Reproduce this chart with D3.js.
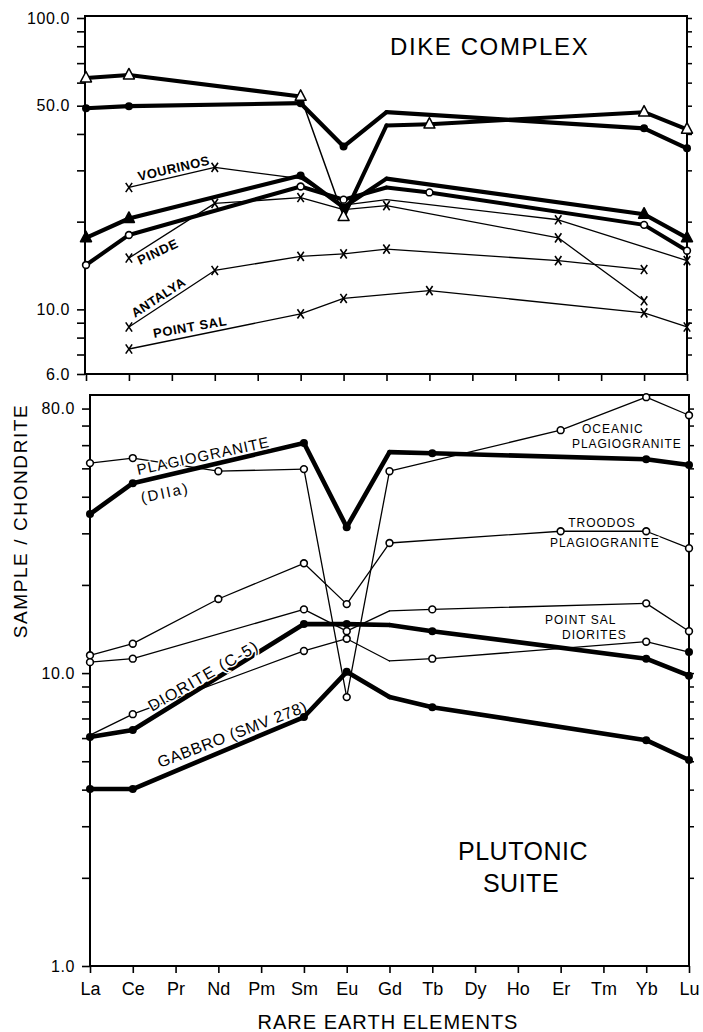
<!DOCTYPE html>
<html>
<head>
<meta charset="utf-8">
<script src="https://cdn.jsdelivr.net/npm/d3@7"></script>
<style>
  html, body { margin: 0; padding: 0; background: #fff; }
  svg { display: block; font-family: "Liberation Sans", Arial, sans-serif; }
</style>
</head>
<body>
<svg id="chart" width="703" height="1032"></svg>
<script>
// ---------------- data ----------------
const elements = ["La","Ce","Pr","Nd","Pm","Sm","Eu","Gd","Tb","Dy","Ho","Er","Tm","Yb","Lu"];

// Dike complex (top panel)
const dikeTriOpen   = [62.2, 63.7, null, null, null, 53.8, 20.8, 42.8, 43.2, null, null, null, null, 47.5, 41.5];
const dikeDot       = [49.0, 49.8, null, null, null, 51.0, 36.2, 47.5, null, null, null, null, null, 41.8, 35.7];
const dikeTriFilled = [17.6, 20.5, null, null, null, 28.8, 22.4, 28.1, null, null, null, null, null, 21.2, 17.6];
const dikeCircle    = [14.2, 18.0, null, null, null, 26.4, 23.8, 26.2, 25.2, null, null, null, null, 19.5, 15.9];
const vourinos      = [null, 26.2, null, 30.7, null, 28.1, 22.8, 23.8, null, null, null, 20.3, null, null, 14.7];
const pinde         = [null, 15.0, null, 23.1, null, 24.2, 22.0, 22.7, null, null, null, 17.6, null, 10.7, null];
const antalya       = [null, 8.7,  null, 13.6, null, 15.2, 15.5, 16.1, null, null, null, 14.7, null, 13.7, null];
const pointSalDike  = [null, 7.31, null, null, null, 9.65, 10.9, null, 11.6, null, null, null, null, 9.73, 8.7];

// Plutonic suite (bottom panel)
const plagioD11a = [34.9, 44.5, null, null, null, 61.0, 31.5, 56.8, 56.3, null, null, null, null, 53.7, 51.3];
const oceanic    = [52.1, 54.2, null, 48.9, null, 49.7, 8.28, 48.9, null, null, null, 67.5, null, 87.5, 75.9];
const troodos    = [11.5, 12.6, null, 17.9, null, 23.7, 17.2, 27.8, null, null, null, 30.5, null, 30.5, 26.7];
const pointSalA  = [10.9, 11.2, null, null, null, 16.5, 13.9, 16.3, 16.5, null, null, null, null, 17.3, 13.9];
const pointSalB  = [6.14, 7.24, null, null, null, 11.9, 13.1, 11.0, 11.2, null, null, null, null, 12.8, 11.8];
const diorite    = [6.05, 6.39, null, null, null, 14.7, 14.7, 14.6, 13.9, null, null, null, null, 11.2, 9.8];
const gabbro     = [4.02, 4.02, null, null, null, 7.08, 10.1, 8.28, 7.65, null, null, null, null, 5.90, 5.05];

// tick values / labels
const topTicks = [6,7,8,9,10,20,30,40,50,60,70,80,90,100];
const topTickLabels = [6, 10, 50, 100];
const botTicks = [1,2,3,4,5,6,7,8,9,10,20,30,40,50,60,70,80];
const botTickLabels = [1, 10, 80];

// ---------------- layout ----------------
const svg = d3.select("#chart");
const fmt = d3.format(".1f");

const topP = { x0: 86, x1: 687, yTop: 16, yBot: 374, left: 85, right: 687, dom: [6, 100], rng: [374, 18] };
const botP = { x0: 90, x1: 689, yTop: 395, yBot: 966, left: 90, right: 689, dom: [1, 89], rng: [966, 395] };

function makePanel(p, ticks, tickLabels, showXLabels) {
  const x = d3.scalePoint().domain(elements).range([p.x0, p.x1]);
  const y = d3.scaleLog().domain(p.dom).range(p.rng);
  const g = svg.append("g");
  g.append("path")
    .attr("d", `M${p.left},${p.yBot}V${p.yTop}H${p.right}V${p.yBot}Z`)
    .attr("fill", "none").attr("stroke", "#000").attr("stroke-width", 2);
  const ax = d3.axisLeft(y).tickValues(ticks).tickSize(8).tickPadding(7)
    .tickFormat(d => tickLabels.includes(d) ? fmt(d) : "");
  const ga = g.append("g").attr("transform", `translate(${p.left},0)`).call(ax);
  ga.select(".domain").remove();
  ga.selectAll("line").attr("stroke-width", 1.6);
  ga.selectAll("text").attr("font-size", 16).attr("letter-spacing", 0.6).attr("fill", "#000");
  const ar = d3.axisRight(y).tickValues(ticks.filter(d => d !== p.dom[0])).tickSize(5).tickFormat("");
  const gr = g.append("g").attr("transform", `translate(${p.right},0)`).call(ar);
  gr.select(".domain").remove();
  gr.selectAll("line").attr("stroke-width", 1.5);
  const ab = d3.axisBottom(x).tickSize(7).tickPadding(9)
    .tickFormat(d => showXLabels ? d : "");
  const gb = g.append("g").attr("transform", `translate(0,${p.yBot})`).call(ab);
  gb.select(".domain").remove();
  gb.selectAll("line").attr("stroke-width", 1.6);
  gb.selectAll("text").attr("font-size", 18).attr("fill", "#000");
  return { x, y, g };
}

const T = makePanel(topP, topTicks, topTickLabels, false);
const B = makePanel(botP, botTicks, botTickLabels, true);

// draws a series; segments ending at an element listed in `thinTo` are drawn thin
function drawSeries(P, values, marks, width, thinTo) {
  const pts = elements.map((e, i) => ({ e, v: values[i], m: marks[i] })).filter(d => d.v != null);
  const line = d3.line().x(d => P.x(d.e)).y(d => P.y(d.v));
  for (let i = 1; i < pts.length; i++) {
    const thin = thinTo && thinTo.includes(pts[i].e);
    P.g.append("path").datum([pts[i - 1], pts[i]]).attr("d", line)
      .attr("fill", "none").attr("stroke", "#000")
      .attr("stroke-width", thin ? 1.5 : width).attr("stroke-linecap", "round");
  }
  return pts;
}

function drawMarkers(P, pts) {
  pts.forEach(d => {
    const cx = P.x(d.e), cy = P.y(d.v);
    if (d.m === "o") {
      P.g.append("circle").attr("cx", cx).attr("cy", cy).attr("r", 3.4)
        .attr("fill", "#fff").attr("stroke", "#000").attr("stroke-width", 1.6);
    } else if (d.m === ".") {
      P.g.append("circle").attr("cx", cx).attr("cy", cy).attr("r", 4)
        .attr("fill", "#000");
    } else if (d.m === "t" || d.m === "T") {
      const s = 11;
      P.g.append("path")
        .attr("d", `M${cx},${cy - s * 0.6}L${cx + s / 2},${cy + s * 0.35}L${cx - s / 2},${cy + s * 0.35}Z`)
        .attr("fill", d.m === "T" ? "#000" : "#fff").attr("stroke", "#000").attr("stroke-width", 1.5)
        .attr("stroke-linejoin", "round");
    } else if (d.m === "x") {
      const w = 3.2, h = 4.6;
      P.g.append("path")
        .attr("d", `M${cx - w},${cy - h}L${cx + w},${cy + h}M${cx + w},${cy - h}L${cx - w},${cy + h}`)
        .attr("stroke", "#000").attr("stroke-width", 1.6).attr("fill", "none");
    }
  });
}

const topSeries = [
  [vourinos,      "-x-x-------x--x", 1.3],
  [pinde,         "-x-x-x-x---x-x-", 1.3],
  [antalya,       "-x-x-xxx---x-x-", 1.3],
  [pointSalDike,  "-x---xx-x----xx", 1.3],
  [dikeCircle,    "oo---oo-o----oo", 4],
  [dikeTriFilled, "TT---..------TT", 4.2],
  [dikeDot,       "..---..------..", 4.2],
  [dikeTriOpen,   "tt---tt-t----tt", 4, ["Eu"]]
];
const botSeries = [
  [oceanic,    "oo-o-ooo---o-oo", 1.3],
  [troodos,    "oo-o-ooo---o-oo", 1.3],
  [pointSalA,  "oo---oo-o----oo", 1.3],
  [pointSalB,  "-o---oo-o----o.", 1.3],
  [plagioD11a, "..---..-.----..", 4.6],
  [diorite,    "..---..-.----..", 4.6],
  [gabbro,     "..---..-.----..", 4.6]
];

const topPts = topSeries.map(s => drawSeries(T, s[0], s[1], s[2], s[3]));
const botPts = botSeries.map(s => drawSeries(B, s[0], s[1], s[2], s[3]));
topPts.forEach(p => drawMarkers(T, p));
botPts.forEach(p => drawMarkers(B, p));

// ---------------- text ----------------
function label(txt, x, y, size, opts = {}) {
  const t = svg.append("text").attr("x", x).attr("y", y).text(txt)
    .attr("font-size", size).attr("fill", "#000")
    .attr("letter-spacing", opts.ls || 0)
    .attr("text-anchor", opts.anchor || "start")
    .attr("font-weight", opts.weight || "normal");
  if (opts.rot) t.attr("transform", `rotate(${opts.rot},${x},${y})`);
  if (opts.halo) t.attr("stroke", "#fff").attr("stroke-width", 3).attr("paint-order", "stroke");
  return t;
}

// top panel labels
label("DIKE COMPLEX", 390, 55, 24, { ls: 1.6 });
label("VOURINOS", 139, 181, 13, { ls: 0.5, rot: -13, weight: "bold" });
label("PINDE", 140, 265, 13, { ls: 0.8, rot: -25, weight: "bold" });
label("ANTALYA", 135, 318, 13, { ls: 0.4, rot: -33, weight: "bold" });
label("POINT SAL", 154, 338, 13, { ls: 0.6, rot: -10, weight: "bold" });

// bottom panel labels
label("PLAGIOGRANITE", 138, 475, 15, { ls: 1, rot: -12, halo: true });
label("(DIIa)", 142, 503, 15, { ls: 2, rot: -12 });
label("OCEANIC", 582, 433, 12, { ls: 1 });
label("PLAGIOGRANITE", 572, 448, 12, { ls: 0.9 });
label("TROODOS", 602, 527, 12, { ls: 1, anchor: "middle" });
label("PLAGIOGRANITE", 550, 547, 12, { ls: 0.9, halo: true });
label("POINT SAL", 545, 624, 12, { ls: 1 });
label("DIORITES", 562, 639, 12, { ls: 1 });
label("DIORITE (C-5)", 152, 712, 16, { ls: 1.5, rot: -30, halo: true });
label("GABBRO (SMV 278)", 160, 768, 16, { ls: 0.6, rot: -21 });
label("PLUTONIC", 523, 860, 25, { ls: 0.5, anchor: "middle" });
label("SUITE", 521, 892, 25, { ls: 0.5, anchor: "middle" });

// axis titles
label("SAMPLE / CHONDRITE", 27, 521, 19, { ls: 1.6, rot: -90, anchor: "middle" });
label("RARE EARTH ELEMENTS", 388, 1029, 20, { ls: 1, anchor: "middle" });
</script>
</body>
</html>
